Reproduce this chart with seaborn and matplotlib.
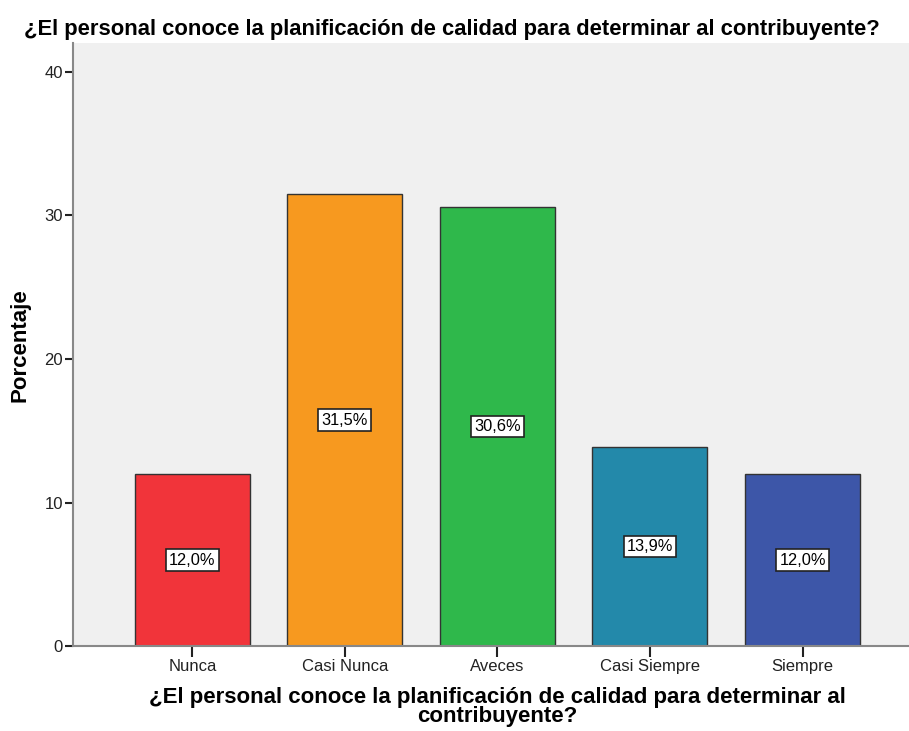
import pandas as pd
import matplotlib.pyplot as plt
import seaborn as sns

CATEGORIES = ["Nunca", "Casi Nunca", "Aveces", "Casi Siempre", "Siempre"]
PERCENTS = [12.0, 31.5, 30.6, 13.9, 12.0]
COLORS = ["#f1343a", "#f7991f", "#2fb84b", "#2389aa", "#3d56a8"]
Y_TICKS = [0, 10, 20, 30, 40]

TITLE = "¿El personal conoce la planificación de calidad para determinar al contribuyente?"
XLABEL = "¿El personal conoce la planificación de calidad para determinar al\ncontribuyente?"
YLABEL = "Porcentaje"

sns.set_theme(style="white")
plt.rcParams["font.family"] = ["Liberation Sans", "DejaVu Sans"]
plt.rcParams["text.color"] = "black"
plt.rcParams["axes.labelcolor"] = "black"
plt.rcParams["xtick.color"] = "#222222"
plt.rcParams["ytick.color"] = "#222222"

df = pd.DataFrame({"cat": CATEGORIES, "pct": PERCENTS})

fig = plt.figure(figsize=(9.09, 7.31), dpi=100)
ax = fig.add_axes([0.080, 0.116, 0.920, 0.825])
ax.set_facecolor("#f0f0f0")

sns.barplot(
    data=df, x="cat", y="pct", hue="cat", palette=COLORS, legend=False,
    width=0.754, edgecolor="#333333", linewidth=1.0, saturation=1, ax=ax,
)

for i, v in enumerate(PERCENTS):
    ax.text(
        i, v / 2, f"{v:.1f}%".replace(".", ","), ha="center", va="center",
        fontsize=11.8, color="black",
        bbox=dict(boxstyle="square,pad=0.2", facecolor="white", edgecolor="#222222", linewidth=1.2),
    )

ax.set_xlim(-0.784, 4.698)
ax.set_ylim(0, 42.0)
ax.set_yticks(Y_TICKS)
ax.set_yticklabels([str(t) for t in Y_TICKS])
ax.tick_params(axis="y", left=True, direction="out", length=6, width=1.5, pad=1, labelsize=12)
ax.tick_params(axis="x", bottom=True, direction="out", length=8, width=1.5, pad=1, labelsize=12)

for side in ["top", "right"]:
    ax.spines[side].set_visible(False)
for side in ["left", "bottom"]:
    ax.spines[side].set_color("#888888")
    ax.spines[side].set_linewidth(1.5)

fig.suptitle(TITLE, x=0.497, y=0.974, fontsize=15.8, fontweight="bold", va="top")
ax.set_xlabel(XLABEL, fontsize=16, fontweight="bold", linespacing=0.85)
ax.xaxis.set_label_coords(0.508, -0.068, transform=ax.transAxes)
ax.xaxis.label.set_va("top")
ax.set_ylabel(YLABEL, fontsize=16, fontweight="bold", labelpad=10)

fig.savefig("out.png", dpi=100)
